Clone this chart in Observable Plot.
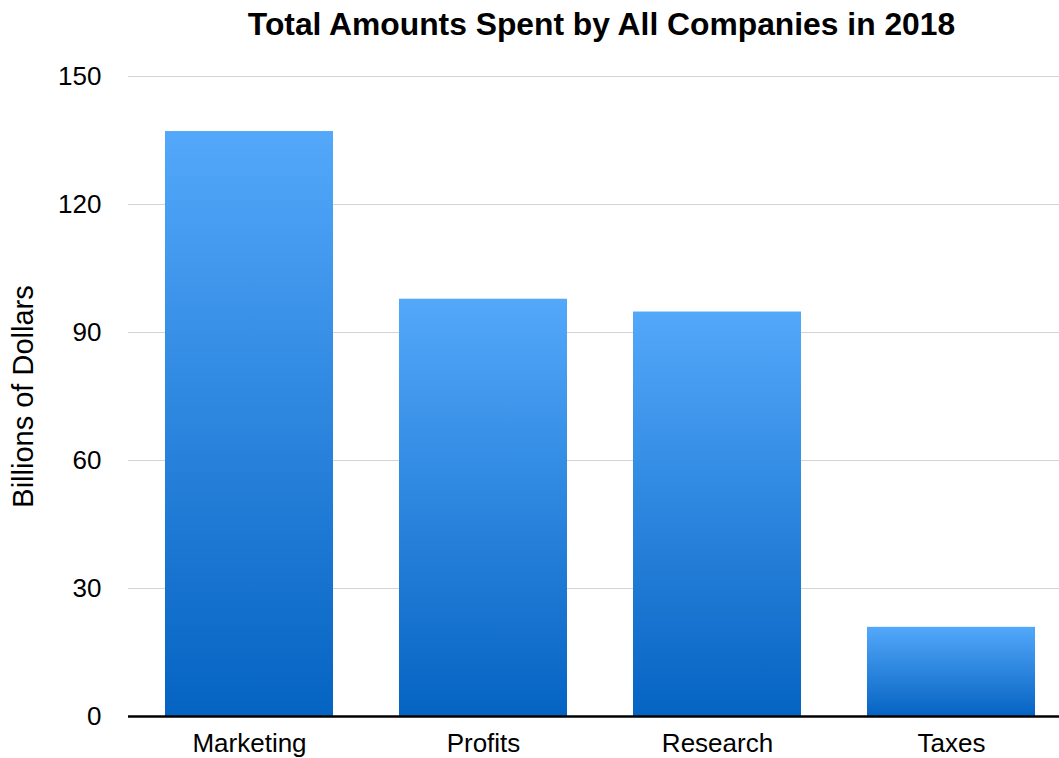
<!DOCTYPE html>
<html>
<head>
<meta charset="utf-8">
<script src="https://cdn.jsdelivr.net/npm/d3@7"></script>
<script src="https://cdn.jsdelivr.net/npm/@observablehq/plot@0.6"></script>
<style>
  body { margin: 0; background: #fff; font-family: "Liberation Sans", Arial, sans-serif; }
  #title { width: 1059px; box-sizing: border-box; padding-left: 144px; height: 50px; line-height: 48px; text-align: center; font-weight: bold; font-size: 31.8px; color: #000; white-space: nowrap; }
</style>
</head>
<body>
<div id="title">Total Amounts Spent by All Companies in 2018</div>
<div id="chart"></div>
<script>
const categories = ["Marketing", "Profits", "Research", "Taxes"];
const values = [137.1, 97.8, 94.8, 20.9];
const yTicks = [0, 30, 60, 90, 120, 150];
const yLabel = "Billions of Dollars";

const data = categories.map((c, i) => ({category: c, value: values[i]}));

const defs = () => {
  const g = d3.create("svg:defs");
  const lg = g.append("linearGradient").attr("id", "barGrad")
    .attr("x1", 0).attr("y1", 0).attr("x2", 0).attr("y2", 1);
  lg.append("stop").attr("offset", "0%").attr("stop-color", "#53a8fa");
  lg.append("stop").attr("offset", "100%").attr("stop-color", "#0563c2");
  return g.node();
};

const chart = Plot.plot({
  width: 1059,
  height: 708,
  marginTop: 26,
  marginBottom: 42,
  marginLeft: 128,
  marginRight: 0,
  style: {fontFamily: "Liberation Sans, Arial, sans-serif", fontSize: "26px", color: "#000", background: "#fff", overflow: "hidden"},
  x: {domain: categories, range: [131, 1070], paddingInner: 0.28, paddingOuter: 0.14, label: null},
  y: {domain: [0, 150], ticks: yTicks, label: null},
  marks: [
    defs,
    Plot.ruleY(yTicks.filter(d => d > 0), {stroke: "#d4d4d4", strokeWidth: 1.2}),
    Plot.barY(data, {x: "category", y: "value", fill: "url(#barGrad)"}),
    Plot.ruleY([0], {stroke: "#000", strokeWidth: 2.5}),
    Plot.axisY(yTicks, {tickSize: 0, tickPadding: 27, fontSize: 26, label: null}),
    Plot.axisX({tickSize: 0, tickPadding: 17, fontSize: 26, label: null}),
    Plot.text([yLabel], {frameAnchor: "left", textAnchor: "middle", dx: -105, rotate: -90, fontSize: 29, text: d => d})
  ]
});
document.getElementById("chart").appendChild(chart);
</script>
</body>
</html>
